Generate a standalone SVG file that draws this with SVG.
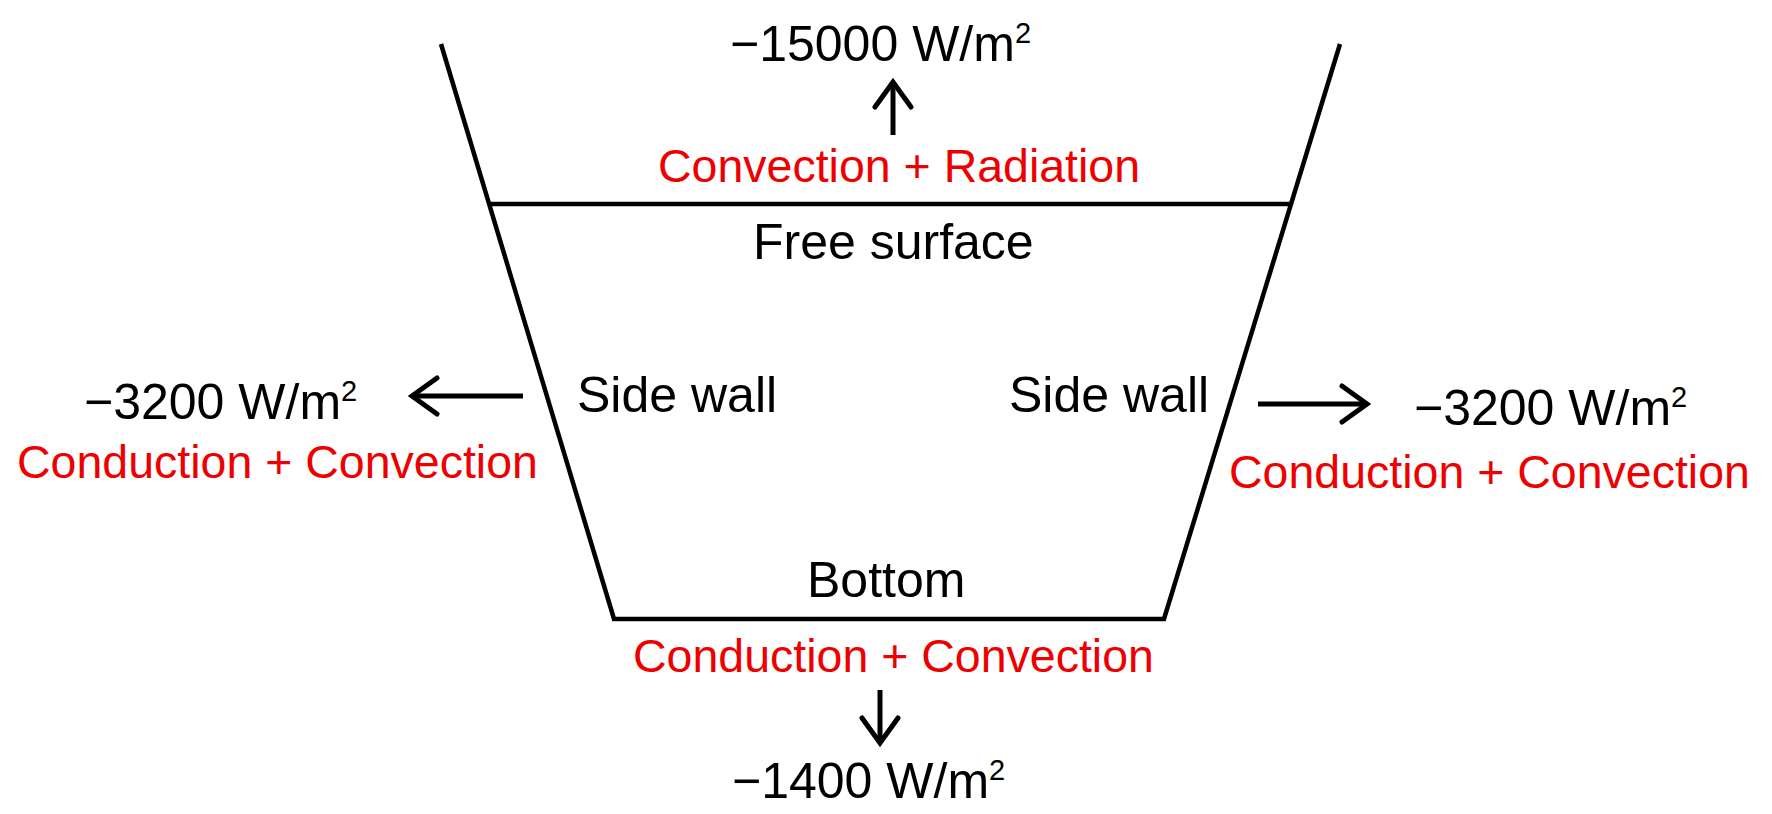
<svg xmlns="http://www.w3.org/2000/svg" width="1772" height="814" viewBox="0 0 1772 814">
  <style>
    .wall { fill: none; stroke: #000; stroke-width: 4.5; stroke-linejoin: miter; }
    .arrow { fill: none; stroke: #000; stroke-width: 5; marker-end: url(#chev); }
    .lbl { font-family: "Liberation Sans", Arial, sans-serif; font-size: 50px; fill: #000; }
    .red { font-family: "Liberation Sans", Arial, sans-serif; font-size: 46.5px; fill: #ee0000; }
    .sup { font-size: 29px; }
  </style>
  <defs>
    <marker id="chev" viewBox="-30 -24 36 48" refX="0" refY="0" markerWidth="36" markerHeight="48" markerUnits="userSpaceOnUse" orient="auto">
      <path d="M -25 -18 L 0 0 L -25 18" fill="none" stroke="#000" stroke-width="5" stroke-linecap="round" stroke-linejoin="miter"/>
    </marker>
  </defs>
  <rect width="1772" height="814" fill="#fff"/>

  <g id="vessel">
    <path class="wall" d="M441,44 L614,619 L1164,619 L1340,44"/>
    <line class="wall" x1="489" y1="204" x2="1291" y2="204"/>
  </g>

  <g id="free-surface">
    <text class="lbl" x="753" y="259">Free surface</text>
  </g>
  <g id="top-flux">
    <text class="lbl" x="730" y="61">−15000 W/m<tspan class="sup" dy="-18">2</tspan></text>
    <text class="red" x="658" y="182">Convection + Radiation</text>
  </g>
  <g id="left-wall">
    <text class="lbl" x="577" y="412">Side wall</text>
    <text class="lbl" x="84" y="419">−3200 W/m<tspan class="sup" dy="-18">2</tspan></text>
    <text class="red" x="17" y="478">Conduction + Convection</text>
  </g>
  <g id="right-wall">
    <text class="lbl" x="1009" y="412">Side wall</text>
    <text class="lbl" x="1414" y="425">−3200 W/m<tspan class="sup" dy="-18">2</tspan></text>
    <text class="red" x="1229" y="488">Conduction + Convection</text>
  </g>
  <g id="bottom">
    <text class="lbl" x="807" y="597">Bottom</text>
    <text class="red" x="633" y="672">Conduction + Convection</text>
    <text class="lbl" x="732" y="798">−1400 W/m<tspan class="sup" dy="-18">2</tspan></text>
  </g>

  <g id="connectors">
    <line class="arrow" x1="893" y1="135" x2="893" y2="82"/>
    <line class="arrow" x1="523" y1="396" x2="412" y2="396"/>
    <line class="arrow" x1="1258" y1="404" x2="1367" y2="404"/>
    <line class="arrow" x1="880" y1="690" x2="880" y2="743"/>
  </g>
</svg>
